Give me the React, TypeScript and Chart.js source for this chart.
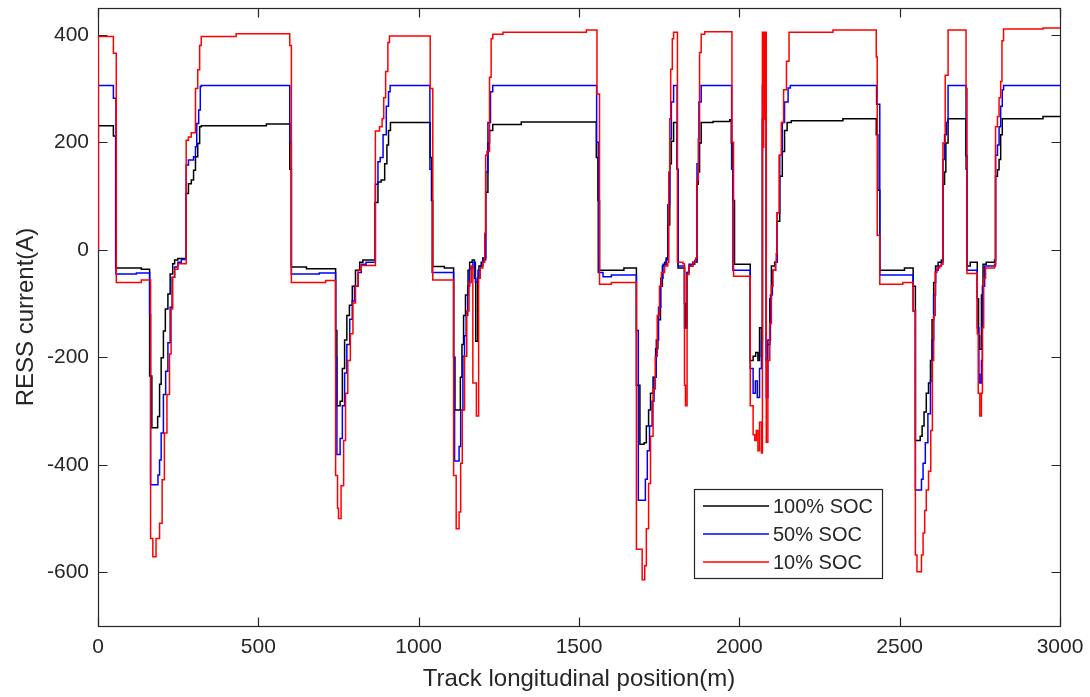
import React, { useEffect, useRef } from "react";
import { Chart, registerables } from "chart.js";

Chart.register(...registerables);

const xTicks = [0, 500, 1000, 1500, 2000, 2500, 3000];
const yTicks = [-600, -400, -200, 0, 200, 400];
const xTitle = "Track longitudinal position(m)";
const yTitle = "RESS current(A)";
const seriesLabels = ["100% SOC", "50% SOC", "10% SOC"];
const seriesColors = ["#000000", "#0000ff", "#ff0000"];

const soc100X = [0, 1, 48, 55, 135, 161, 168, 186, 192, 197, 204, 210, 218, 225, 233, 239, 249, 275, 282, 291, 298, 304, 311, 317, 322, 525, 598, 603, 650, 741, 745, 755, 762, 769, 776, 784, 793, 803, 816, 826, 864, 873, 883, 894, 901, 906, 912, 1036, 1040, 1044, 1080, 1109, 1113, 1130, 1135, 1140, 1146, 1154, 1159, 1167, 1174, 1178, 1184, 1188, 1195, 1200, 1209, 1216, 1221, 1231, 1320, 1554, 1559, 1564, 1640, 1679, 1690, 1703, 1710, 1717, 1723, 1731, 1739, 1746, 1754, 1760, 1767, 1772, 1777, 1783, 1788, 1795, 1806, 1809, 1829, 1832, 1837, 1843, 1855, 1868, 1872, 1876, 1881, 1918, 1970, 1975, 1980, 1985, 2034, 2043, 2051, 2058, 2063, 2069, 2072, 2084, 2087, 2095, 2100, 2110, 2118, 2126, 2134, 2141, 2149, 2162, 2323, 2427, 2432, 2438, 2515, 2542, 2549, 2564, 2570, 2576, 2583, 2590, 2596, 2601, 2606, 2612, 2620, 2630, 2635, 2640, 2644, 2651, 2706, 2710, 2720, 2742, 2746, 2749, 2755, 2760, 2770, 2796, 2799, 2805, 2810, 2815, 2820, 2947, 3000];
const soc100Y = [0, 231, 212, -34, -36, -235, -331, -310, -250, -201, -151, -110, -82, -45, -26, -19, -16, 105, 123, 130, 148, 173, 198, 229, 231, 234, 150, -32, -35, -150, -290, -282, -221, -168, -122, -103, -68, -38, -23, -19, 88, 126, 130, 160, 195, 222, 237, 172, 92, -31, -34, -200, -298, -237, -176, -122, -84, -38, -23, -19, -53, -170, -53, -30, -23, -15, 107, 199, 222, 233, 238, 172, 92, -38, -34, -252, -362, -359, -328, -298, -267, -237, -184, -130, -68, -30, -23, -15, 46, 160, 202, 237, 150, -34, -100, -145, -42, -30, -23, 122, 145, 199, 237, 239, 242, 199, 92, -27, -206, -198, -191, -206, -145, -198, 244, -206, -176, -91, -30, -23, 53, 137, 183, 222, 237, 240, 244, 214, 111, -38, -34, -68, -355, -347, -328, -302, -267, -248, -206, -130, -61, -30, -23, -19, 122, 145, 199, 244, 175, -30, -23, -91, -160, -185, -84, -27, -23, -19, 137, 149, 168, 214, 244, 248, 248];

const soc50X = [0, 1, 48, 56, 120, 161, 164, 187, 192, 197, 204, 211, 218, 225, 231, 239, 249, 260, 275, 282, 298, 304, 308, 314, 319, 322, 598, 603, 690, 741, 745, 755, 762, 769, 776, 785, 793, 800, 811, 821, 836, 865, 873, 880, 889, 899, 906, 911, 1035, 1042, 1109, 1112, 1126, 1131, 1138, 1143, 1148, 1153, 1159, 1169, 1177, 1185, 1192, 1200, 1209, 1216, 1224, 1231, 1555, 1560, 1575, 1601, 1679, 1685, 1707, 1713, 1720, 1728, 1734, 1741, 1748, 1755, 1762, 1772, 1777, 1783, 1788, 1795, 1806, 1809, 1829, 1837, 1843, 1861, 1868, 1874, 1881, 1976, 1980, 2034, 2043, 2050, 2056, 2063, 2069, 2072, 2084, 2089, 2097, 2103, 2113, 2118, 2126, 2134, 2141, 2152, 2159, 2428, 2438, 2542, 2549, 2568, 2573, 2580, 2588, 2596, 2601, 2606, 2612, 2620, 2630, 2635, 2640, 2646, 2651, 2707, 2710, 2742, 2747, 2750, 2755, 2758, 2765, 2796, 2799, 2805, 2810, 2815, 2820, 2824, 3000];
const soc50Y = [0, 306, 282, -45, -43, -120, -437, -419, -391, -341, -269, -226, -173, -107, -51, -32, -23, -18, 158, 167, 173, 192, 235, 260, 304, 306, 200, -45, -43, -200, -381, -351, -290, -229, -176, -129, -95, -68, -42, -27, -23, 122, 164, 172, 214, 267, 294, 306, 150, -42, -200, -393, -366, -298, -198, -160, -122, -68, -34, -23, -60, -38, -30, -19, 145, 237, 294, 306, 200, -42, -50, -47, -150, -466, -427, -374, -328, -282, -237, -168, -107, -53, -27, -19, 84, 206, 275, 306, 150, -30, -145, -42, -27, -20, 160, 275, 306, 150, -38, -221, -267, -244, -275, -221, -168, 306, -275, -168, -84, -38, -23, 69, 176, 237, 275, 301, 306, 271, -47, -114, -447, -427, -397, -359, -305, -244, -168, -84, -38, -30, -23, 168, 214, 237, 306, 150, -38, -145, -232, -248, -206, -68, -30, -27, 176, 195, 229, 267, 298, 306, 306];

const soc10X = [0, 1, 48, 57, 135, 164, 171, 181, 192, 200, 207, 215, 223, 228, 233, 239, 249, 275, 282, 291, 304, 311, 317, 322, 431, 598, 603, 710, 741, 747, 750, 758, 766, 772, 779, 787, 795, 803, 811, 821, 865, 878, 886, 891, 897, 904, 909, 1036, 1044, 1109, 1117, 1126, 1131, 1136, 1143, 1150, 1157, 1164, 1169, 1180, 1187, 1192, 1200, 1206, 1209, 1213, 1221, 1226, 1231, 1263, 1523, 1556, 1564, 1601, 1679, 1697, 1705, 1710, 1717, 1723, 1731, 1738, 1744, 1751, 1757, 1767, 1777, 1780, 1783, 1786, 1791, 1795, 1807, 1824, 1829, 1832, 1837, 1843, 1855, 1864, 1868, 1872, 1876, 1881, 1892, 1977, 1982, 2034, 2043, 2048, 2053, 2058, 2063, 2069, 2072, 2074, 2076, 2078, 2080, 2084, 2089, 2095, 2100, 2105, 2113, 2115, 2118, 2124, 2131, 2138, 2147, 2155, 2292, 2427, 2430, 2438, 2510, 2542, 2549, 2554, 2568, 2573, 2578, 2583, 2590, 2597, 2602, 2606, 2611, 2616, 2625, 2630, 2635, 2642, 2651, 2707, 2710, 2742, 2745, 2750, 2755, 2758, 2762, 2768, 2796, 2799, 2805, 2810, 2815, 2819, 2824, 2947, 3000];
const soc10Y = [0, 397, 366, -61, -56, -537, -571, -537, -509, -428, -341, -269, -194, -110, -51, -36, -26, 204, 210, 218, 300, 335, 380, 397, 402, 380, -61, -57, -420, -481, -500, -439, -355, -267, -206, -156, -99, -68, -38, -29, 221, 229, 244, 283, 332, 386, 398, 300, -56, -420, -519, -488, -397, -298, -198, -114, -61, -30, -248, -309, -53, -34, -23, 31, 176, 183, 321, 393, 401, 405, 409, 290, -64, -61, -557, -614, -588, -519, -435, -347, -259, -198, -122, -68, -42, -30, -23, 145, 244, 336, 393, 405, -23, -26, -252, -290, -46, -30, -23, -15, 130, 206, 367, 401, 406, 200, -49, -290, -344, -355, -336, -374, -321, -378, 405, 191, 405, 244, 405, -358, -206, -137, -68, -38, -23, -7, 69, 176, 237, 298, 351, 405, 409, 359, 27, -64, -61, -114, -568, -599, -568, -527, -485, -447, -412, -336, -206, -122, -42, -34, -30, -27, 199, 325, 409, 300, -44, -156, -267, -309, -267, -145, -53, -34, -30, 229, 248, 283, 313, 389, 411, 413, 413];

const FONT = "'Liberation Sans', Arial, Helvetica, sans-serif";
const AXIS_COLOR = "#262626";

const framePlugin = {
  id: "matlabFrame",
  beforeDatasetsDraw(chart: any) {
    const { ctx, chartArea: a, scales } = chart;
    ctx.save();
    ctx.strokeStyle = AXIS_COLOR;
    ctx.lineWidth = 1.2;
    const L = Math.round(a.left) + 0.5;
    const R = Math.round(a.right) + 0.5;
    const T = Math.round(a.top) + 0.5;
    const B = Math.round(a.bottom) + 0.5;
    ctx.strokeRect(L, T, R - L, B - T);
    const tl = 9;
    ctx.beginPath();
    xTicks.forEach((v) => {
      const px = Math.round(scales.x.getPixelForValue(v)) + 0.5;
      ctx.moveTo(px, B);
      ctx.lineTo(px, B - tl);
      ctx.moveTo(px, T);
      ctx.lineTo(px, T + tl);
    });
    yTicks.forEach((v) => {
      const py = Math.round(scales.y.getPixelForValue(v)) + 0.5;
      ctx.moveTo(L, py);
      ctx.lineTo(L + tl, py);
      ctx.moveTo(R, py);
      ctx.lineTo(R - tl, py);
    });
    ctx.stroke();
    ctx.restore();
  },
  afterDatasetsDraw(chart: any) {
    const { ctx } = chart;
    ctx.save();
    // legend box
    const bx = 694.5, by = 489.5, bw = 188, bh = 89;
    ctx.fillStyle = "#ffffff";
    ctx.fillRect(bx, by, bw, bh);
    ctx.strokeStyle = AXIS_COLOR;
    ctx.lineWidth = 1.2;
    ctx.strokeRect(bx, by, bw, bh);
    ctx.font = `20px ${FONT}`;
    ctx.textBaseline = "middle";
    ctx.textAlign = "left";
    const rows = [506, 534, 562];
    chart.data.datasets.forEach((ds: any, i: number) => {
      const y = rows[i];
      ctx.strokeStyle = ds.borderColor;
      ctx.lineWidth = 1.5;
      ctx.beginPath();
      ctx.moveTo(703, y);
      ctx.lineTo(769, y);
      ctx.stroke();
      ctx.fillStyle = AXIS_COLOR;
      ctx.fillText(ds.label, 773, y + 1);
    });
    ctx.restore();
  },
};

const noPad = (s: any) => {
  s.paddingLeft = 0;
  s.paddingRight = 0;
  s.paddingTop = 0;
  s.paddingBottom = 0;
};

export default function App() {
  const ref = useRef<HTMLCanvasElement | null>(null);
  useEffect(() => {
    document.body.style.margin = "0";
    const canvas = ref.current;
    if (!canvas) return;
    const mk = (xs: number[], ys: number[]) => xs.map((x, i) => ({ x, y: ys[i] }));
    const series = [mk(soc100X, soc100Y), mk(soc50X, soc50Y), mk(soc10X, soc10Y)];
    const chart = new Chart(canvas, {
      type: "line",
      data: {
        datasets: series.map((d, i) => ({
          label: seriesLabels[i],
          data: d,
          borderColor: seriesColors[i],
          backgroundColor: seriesColors[i],
          borderWidth: 1.5,
          pointRadius: 0,
          stepped: true,
          fill: false,
          order: 3 - i,
        })),
      },
      options: {
        responsive: false,
        animation: false,
        events: [],
        layout: { padding: { top: 8, right: 30, left: 0, bottom: 0 } },
        plugins: { legend: { display: false }, tooltip: { enabled: false }, title: { display: false } },
        scales: {
          x: {
            type: "linear",
            min: 0,
            max: 3000,
            grid: { display: false, drawTicks: false },
            border: { display: false },
            afterFit: (s: any) => { s.height = 71; noPad(s); },
            afterBuildTicks: (s: any) => { s.ticks = xTicks.map((v) => ({ value: v })); },
            ticks: { autoSkip: false, maxRotation: 0, padding: 9, color: AXIS_COLOR, font: { family: FONT, size: 21 }, callback: (v: any) => String(v) },
            title: { display: true, text: xTitle, color: AXIS_COLOR, font: { family: FONT, size: 24 }, padding: { top: 0, bottom: 3 } },
          },
          y: {
            type: "linear",
            min: -700,
            max: 450,
            grid: { display: false, drawTicks: false },
            border: { display: false },
            afterFit: (s: any) => { s.width = 98; noPad(s); },
            afterBuildTicks: (s: any) => { s.ticks = yTicks.map((v) => ({ value: v })); },
            ticks: { autoSkip: false, padding: 9, color: AXIS_COLOR, font: { family: FONT, size: 21 }, callback: (v: any) => String(v) },
            title: { display: true, text: yTitle, color: AXIS_COLOR, font: { family: FONT, size: 24 }, padding: { top: 12, bottom: 0 } },
          },
        },
      },
      plugins: [framePlugin],
    });
    return () => chart.destroy();
  }, []);
  return (
    <div style={{ position: "fixed", left: 0, top: 0, width: 1090, height: 697, background: "#ffffff" }}>
      <canvas ref={ref} width={1090} height={697} style={{ display: "block" }} />
    </div>
  );
}
